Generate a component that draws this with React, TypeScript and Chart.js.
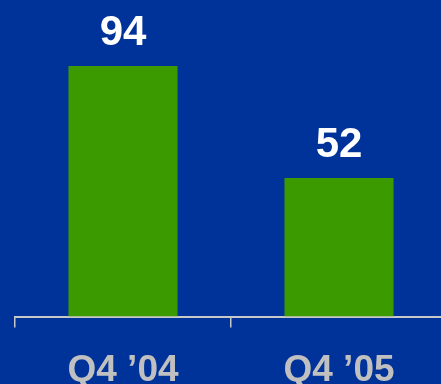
import React, { useEffect, useRef } from "react";
import { Chart, registerables } from "chart.js";

Chart.register(...registerables);

const categories = ["Q4 \u201904", "Q4 \u201905"];
const values = [94, 52];

const BG = "#003399";
const GREEN = "#3A9A00";
const AXIS = "#C8C8C8";
const LABEL = "#C0C0C0";

const valueLabels = {
  id: "valueLabels",
  afterDatasetsDraw(chart: any) {
    const ctx = chart.ctx;
    const meta = chart.getDatasetMeta(0);
    ctx.save();
    ctx.fillStyle = "#FFFFFF";
    ctx.font = "bold 42px 'Liberation Sans'";
    ctx.textAlign = "center";
    ctx.textBaseline = "alphabetic";
    meta.data.forEach((bar: any, i: number) => {
      ctx.fillText(String(values[i]), bar.x, bar.y - 21);
    });
    ctx.restore();
  },
};

export default function App() {
  const ref = useRef<HTMLCanvasElement>(null);
  useEffect(() => {
    document.body.style.margin = "0";
    document.body.style.overflow = "hidden";
    const chart = new Chart(ref.current!, {
      type: "bar",
      data: {
        labels: categories,
        datasets: [
          {
            data: values,
            backgroundColor: GREEN,
            borderWidth: 0,
            barPercentage: 0.505,
            categoryPercentage: 1,
          },
        ],
      },
      options: {
        animation: false,
        responsive: false,
        devicePixelRatio: 1,
        layout: { padding: { left: 15, right: 13, top: 2, bottom: 0 } },
        plugins: { legend: { display: false }, tooltip: { enabled: false } },
        scales: {
          x: {
            grid: {
              display: true,
              drawOnChartArea: false,
              drawTicks: true,
              tickLength: 11,
              color: AXIS,
              lineWidth: 1.5,
            },
            border: { display: true, color: AXIS, width: 2 },
            ticks: {
              color: LABEL,
              padding: 21,
              font: { family: "'Liberation Sans'", weight: "bold", size: 37 },
            },
          },
          y: {
            display: false,
            min: 0,
            max: 118,
          },
        },
      },
      plugins: [valueLabels],
    });
    return () => chart.destroy();
  }, []);
  return (
    <div
      style={{
        position: "fixed",
        left: 0,
        top: 0,
        width: 441,
        height: 384,
        overflow: "hidden",
        background: BG,
      }}
    >
      <canvas ref={ref} width={460} height={414} style={{ display: "block" }} />
    </div>
  );
}
